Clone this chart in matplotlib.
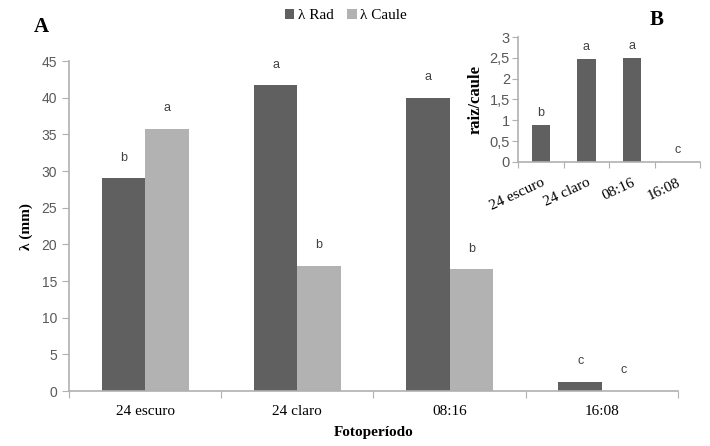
import numpy as np
from matplotlib import pyplot as plt

# data
categories = ['24 escuro', '24 claro', '08:16', '16:08']
rad = [29.0, 41.7, 40.0, 1.3]
caule = [35.8, 17.1, 16.6, 0.0]
rad_letters = ['b', 'a', 'a', 'c']
caule_letters = ['a', 'b', 'b', 'c']
ratio = [0.88, 2.47, 2.49, 0.0]
ratio_letters = ['b', 'a', 'a', 'c']

dark = '#606060'
light = '#b2b2b2'
axis_grey = '#b0b0b0'
tick_grey = '#595959'
letter_grey = '#404040'
serif = 'Liberation Serif'
sans = 'Liberation Sans'

fig = plt.figure(figsize=(7.1, 4.46), dpi=100)

# main chart (A)
ax = fig.add_axes([0.097, 0.123, 0.858, 0.74])
x = np.arange(len(categories))
w = 0.2857
ax.bar(x - w / 2, rad, w, color=dark, label='λ Rad')
ax.bar(x + w / 2, caule, w, color=light, label='λ Caule')
for xi, v, t in zip(x - w / 2, rad, rad_letters):
    ax.text(xi, v + 2.0, t, ha='center', va='bottom', fontsize=9,
            family=sans, color=letter_grey)
for xi, v, t in zip(x + w / 2, caule, caule_letters):
    ax.text(xi, v + 2.0, t, ha='center', va='bottom', fontsize=9,
            family=sans, color=letter_grey)

ax.set_xlim(-0.5, len(categories) - 0.5)
ax.set_ylim(0, 45)
ax.set_yticks(np.arange(0, 46, 5))
ax.set_xticks(np.arange(-0.5, len(categories), 1.0))
ax.set_xticklabels([])
ax.set_xticks(x, minor=True)
ax.set_xticklabels(categories, minor=True, family=serif, fontsize=11)
ax.tick_params(axis='x', which='minor', length=0, pad=10)
ax.tick_params(axis='x', which='major', direction='out', length=5, color=axis_grey)
ax.tick_params(axis='y', direction='out', length=5, color=axis_grey,
               labelcolor=tick_grey, labelsize=10)
for lab in ax.get_yticklabels():
    lab.set_family(sans)
for s in ['top', 'right']:
    ax.spines[s].set_visible(False)
for s in ['left', 'bottom']:
    ax.spines[s].set_color(axis_grey)
    ax.spines[s].set_linewidth(1.2)
ax.set_ylabel('λ (mm)', family=serif, fontweight='bold', fontsize=11, labelpad=6)
ax.set_xlabel('Fotoperíodo', family=serif, fontweight='bold', fontsize=11, labelpad=6)

ax.legend(loc='upper center', bbox_to_anchor=(0.455, 1.2), ncol=2, frameon=False,
          prop={'family': serif, 'size': 11}, handlelength=0.6, handleheight=0.6,
          handletextpad=0.25, columnspacing=0.9)

fig.text(0.048, 0.94, 'A', family=serif, fontweight='bold', fontsize=15,
         ha='left', va='center')
fig.text(0.915, 0.955, 'B', family=serif, fontweight='bold', fontsize=15,
         ha='left', va='center')

# inset (B)
ax2 = fig.add_axes([0.730, 0.637, 0.256, 0.28])
xb = np.arange(len(categories))
ax2.bar(xb, ratio, 0.4, color=dark)
for xi, v, t in zip(xb, ratio, ratio_letters):
    ax2.text(xi, v + 0.15, t, ha='center', va='bottom', fontsize=9,
             family=sans, color=letter_grey)
ax2.set_xlim(-0.5, len(categories) - 0.5)
ax2.set_ylim(0, 3)
ax2.set_yticks(np.arange(0, 3.01, 0.5))
ax2.set_yticklabels(['0', '0,5', '1', '1,5', '2', '2,5', '3'], family=sans)
ax2.set_xticks(np.arange(-0.5, len(categories), 1.0))
ax2.set_xticklabels([])
ax2.set_xticks(xb, minor=True)
ax2.set_xticklabels(categories, minor=True, family=serif, fontsize=11,
                    rotation=25, ha='right', va='top', rotation_mode='anchor')
ax2.tick_params(axis='x', which='minor', length=0, pad=10)
ax2.tick_params(axis='x', which='major', direction='out', length=4, color=axis_grey)
ax2.tick_params(axis='y', direction='out', length=4, color=axis_grey,
                labelcolor=tick_grey, labelsize=10.5, pad=2)
for s in ['top', 'right']:
    ax2.spines[s].set_visible(False)
for s in ['left', 'bottom']:
    ax2.spines[s].set_color(axis_grey)
    ax2.spines[s].set_linewidth(1.2)
ax2.set_ylabel('raiz/caule', family=serif, fontweight='bold', fontsize=12, labelpad=4)

fig.savefig('out.png', dpi=100)
